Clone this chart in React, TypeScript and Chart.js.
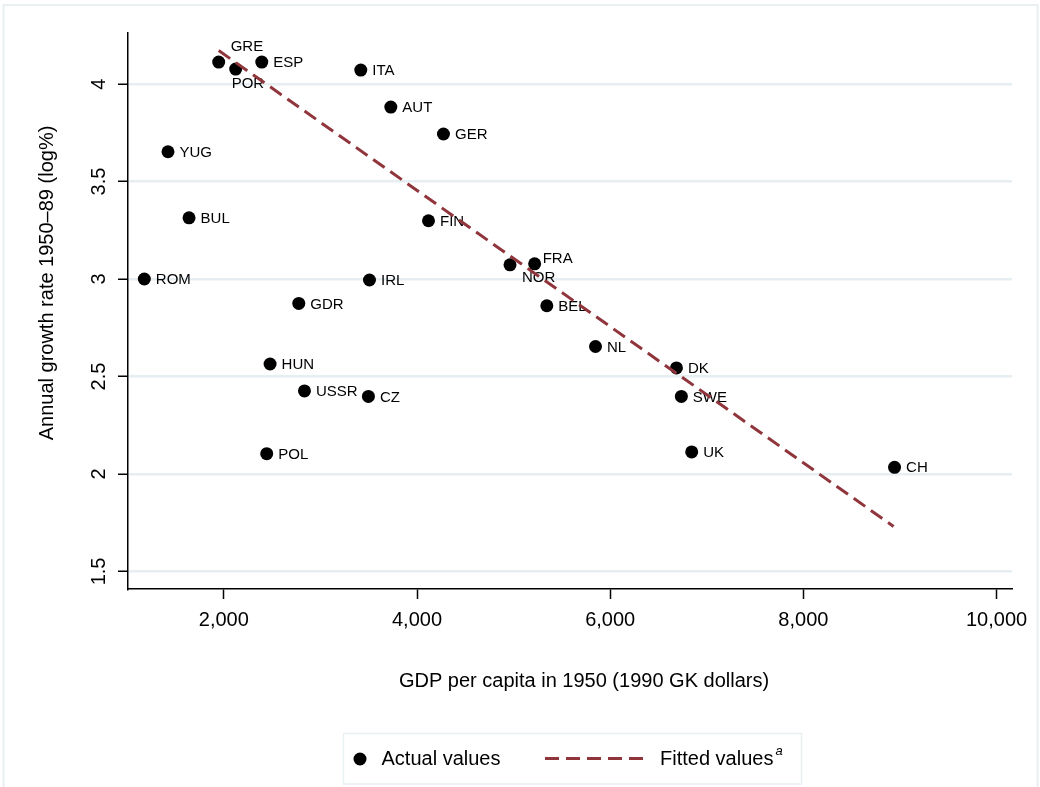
import React, { useEffect, useRef } from "react";
import { Chart, registerables } from "chart.js";

Chart.register(...registerables);

// ---- data ----
const countries = ["GRE", "POR", "ESP", "ITA", "AUT", "GER", "YUG", "BUL", "FIN", "ROM", "IRL", "GDR", "HUN", "USSR", "CZ", "POL", "NOR", "FRA", "BEL", "NL", "DK", "SWE", "UK", "CH"];
const gdp1950 = [1947, 2123, 2393, 3418, 3729, 4274, 1422, 1640, 4119, 1177, 3508, 2776, 2479, 2835, 3497, 2444, 4963, 5218, 5344, 5848, 6686, 6737, 6844, 8944];
const growth = [4.113, 4.077, 4.113, 4.072, 3.882, 3.744, 3.653, 3.314, 3.299, 3.0, 2.995, 2.875, 2.564, 2.426, 2.398, 2.104, 3.073, 3.078, 2.863, 2.654, 2.544, 2.398, 2.113, 2.034];
const fittedX = [1947, 8934];
const fittedY = [4.172, 1.731];
const xTickValues = [2000, 4000, 6000, 8000, 10000];
const yTickValues = [1.5, 2, 2.5, 3, 3.5, 4];
const xTitle = "GDP per capita in 1950 (1990 GK dollars)";
const yTitle = "Annual growth rate 1950\u201389 (log%)";
const legendActual = "Actual values";
const legendFitted = "Fitted values";
const legendFittedSup = "a";

// ---- styles ----
const FONT = "'Liberation Sans', Arial, Helvetica, sans-serif";
const FIT_COLOR = "#90353B";
const GRID_COLOR = "#E6EEF1";
const FRAME_COLOR = "#E8F0F2";
const DEFAULT_LABEL_OFFSET: [number, number] = [11.5, 1];
const LABEL_OFFSETS: Record<string, [number, number]> = {
  GRE: [12, -15.5],
  POR: [-4, 15],
  NOR: [12, 13],
  FRA: [8, -4.5],
};

const overlayPlugin = {
  id: "overlay",
  beforeDraw(chart: any) {
    const ctx = chart.ctx;
    ctx.save();
    ctx.strokeStyle = FRAME_COLOR;
    ctx.lineWidth = 2;
    ctx.strokeRect(3.5, 5, 1034, 900);
    ctx.restore();
  },
  afterDatasetDraw(chart: any, args: any) {
    if (args.index !== 1) return;
    const ctx = chart.ctx;
    const meta = chart.getDatasetMeta(1);
    ctx.save();
    ctx.fillStyle = "#000";
    ctx.font = `15px ${FONT}`;
    ctx.textAlign = "left";
    ctx.textBaseline = "middle";
    meta.data.forEach((pt: any, i: number) => {
      const name = countries[i];
      const off = LABEL_OFFSETS[name] || DEFAULT_LABEL_OFFSET;
      ctx.fillText(name, pt.x + off[0], pt.y + off[1]);
    });
    ctx.restore();
  },
  afterDraw(chart: any) {
    const ctx = chart.ctx;
    const ys = chart.scales.y;
    ctx.save();
    ctx.fillStyle = "#000";
    ctx.font = `20px ${FONT}`;
    ctx.textAlign = "center";
    ctx.textBaseline = "middle";
    // y tick labels (rotated)
    yTickValues.forEach((v) => {
      const py = ys.getPixelForValue(v);
      ctx.save();
      ctx.translate(99, py);
      ctx.rotate(-Math.PI / 2);
      ctx.fillText(String(v), 0, 0);
      ctx.restore();
    });
    // y title
    ctx.save();
    ctx.translate(47, 283);
    ctx.rotate(-Math.PI / 2);
    ctx.fillText(yTitle, 0, 0);
    ctx.restore();
    // x title
    ctx.fillText(xTitle, 584, 681);

    // legend box
    ctx.strokeStyle = FRAME_COLOR;
    ctx.lineWidth = 1.5;
    ctx.strokeRect(343.5, 733.5, 458, 50.5);
    // marker
    ctx.beginPath();
    ctx.arc(360, 759, 6.5, 0, Math.PI * 2);
    ctx.fillStyle = "#000";
    ctx.fill();
    ctx.textAlign = "left";
    ctx.fillText(legendActual, 381.5, 759);
    // dashed line
    ctx.beginPath();
    ctx.setLineDash([14, 7]);
    ctx.strokeStyle = FIT_COLOR;
    ctx.lineWidth = 3;
    ctx.moveTo(545, 758.5);
    ctx.lineTo(643, 758.5);
    ctx.stroke();
    ctx.setLineDash([]);
    ctx.fillText(legendFitted, 660, 759);
    const w = ctx.measureText(legendFitted).width;
    ctx.font = `italic 13px ${FONT}`;
    ctx.fillText(legendFittedSup, 660 + w + 2, 751);
    ctx.restore();
  },
};

export default function App() {
  const ref = useRef<HTMLCanvasElement | null>(null);
  useEffect(() => {
    document.body.style.margin = "0";
    if (!ref.current) return;
    Chart.defaults.font.family = FONT;
    const chart = new Chart(ref.current, {
      type: "scatter",
      data: {
        datasets: [
          {
            label: legendFitted,
            type: "line",
            data: fittedX.map((x, i) => ({ x, y: fittedY[i] })),
            showLine: true,
            borderColor: FIT_COLOR,
            borderWidth: 3,
            borderDash: [14, 7],
            pointRadius: 0,
            fill: false,
            order: 0,
          } as any,
          {
            label: legendActual,
            data: gdp1950.map((x, i) => ({ x, y: growth[i] })),
            pointRadius: 6.5,
            pointBackgroundColor: "#000",
            pointBorderWidth: 0,
            pointBorderColor: "#000",
            showLine: false,
            order: 1,
          },
        ],
      },
      options: {
        responsive: false,
        animation: false,
        devicePixelRatio: 1,
        layout: { padding: { left: 0, top: 33, right: 28, bottom: 88 } },
        plugins: { legend: { display: false }, tooltip: { enabled: false } },
        scales: {
          x: {
            type: "linear",
            min: 1008,
            max: 10160,
            afterBuildTicks: (s: any) => {
              s.ticks = xTickValues.map((v) => ({ value: v }));
            },
            afterFit: (s: any) => {
              s.height = 110;
            },
            grid: {
              drawOnChartArea: false,
              drawTicks: true,
              tickLength: 10,
              tickColor: "#000",
              tickWidth: 1.5,
              color: "#000",
            },
            border: { display: true, color: "#000", width: 1.5 },
            ticks: {
              color: "#000",
              font: { size: 20, family: FONT },
              padding: 9,
              maxRotation: 0,
              callback: (v: any) => Number(v).toLocaleString("en-US"),
            },
          },
          y: {
            type: "linear",
            min: 1.41,
            max: 4.262,
            afterBuildTicks: (s: any) => {
              s.ticks = yTickValues.map((v) => ({ value: v }));
            },
            afterFit: (s: any) => {
              s.width = 128;
            },
            grid: {
              drawOnChartArea: true,
              drawTicks: true,
              tickLength: 10,
              tickColor: "#000",
              tickWidth: 1.5,
              color: GRID_COLOR,
              lineWidth: 2.5,
            },
            border: { display: true, color: "#000", width: 1.5 },
            ticks: { display: false },
          },
        },
      },
      plugins: [overlayPlugin],
    } as any);
    return () => chart.destroy();
  }, []);
  return (
    <div style={{ position: "absolute", left: 0, top: 0, width: 1040, height: 787, background: "#fff" }}>
      <canvas ref={ref} width={1040} height={787} />
    </div>
  );
}
